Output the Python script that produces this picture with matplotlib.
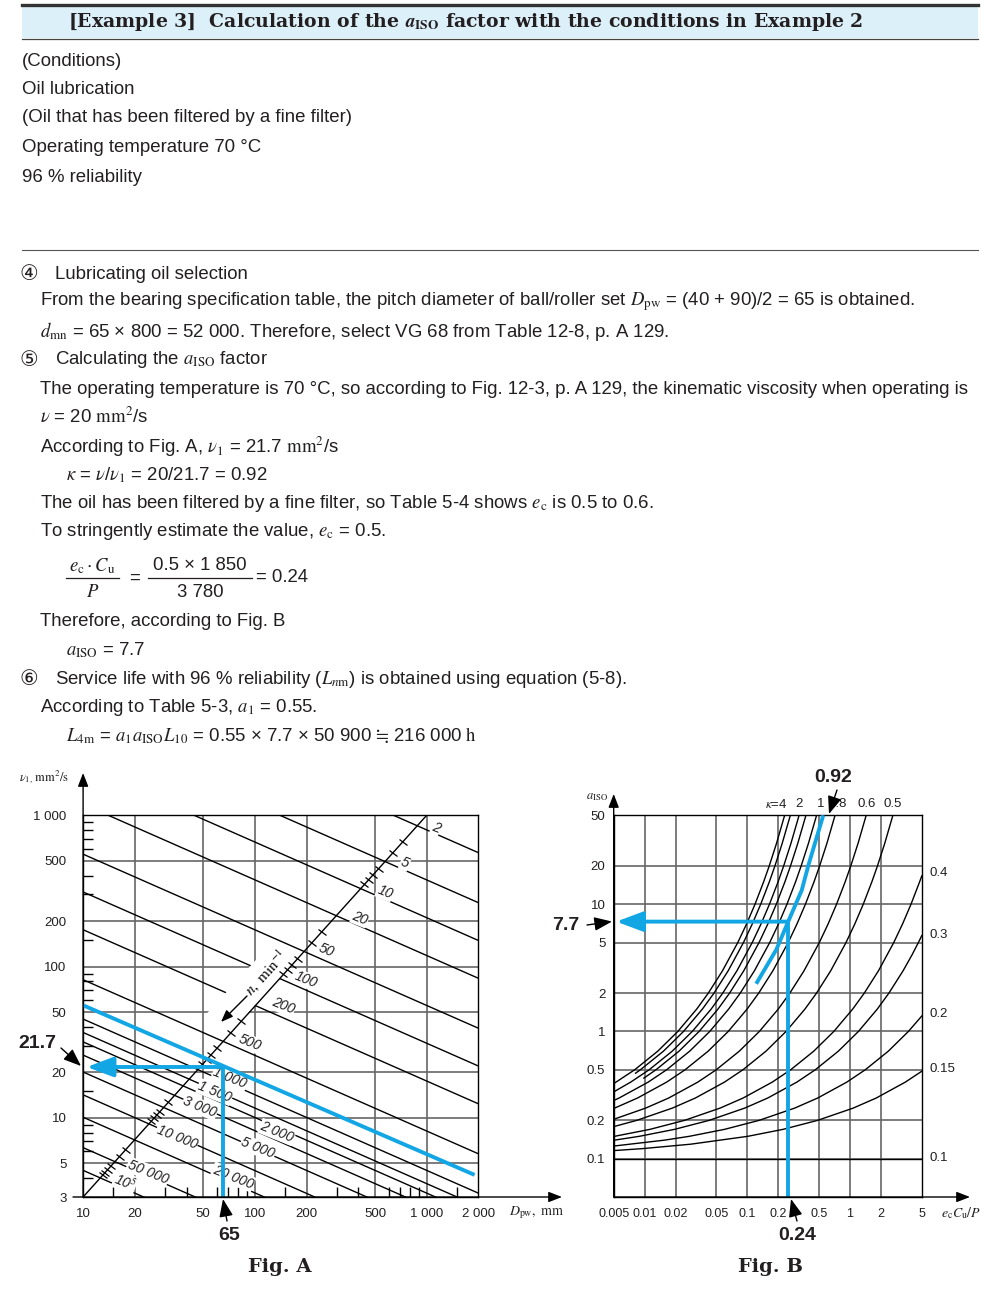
import numpy as np
import matplotlib
matplotlib.use("Agg")
import matplotlib.pyplot as plt
from matplotlib.patches import Rectangle, Polygon, FancyArrowPatch
from matplotlib.lines import Line2D
from matplotlib.markers import MarkerStyle
from matplotlib.transforms import Affine2D
from matplotlib.ticker import FixedLocator, NullFormatter

plt.rcParams['font.family'] = ['Liberation Sans', 'DejaVu Sans', 'Noto Sans CJK JP']
plt.rcParams['mathtext.fontset'] = 'stix'

W, H = 984, 1294
BLUE = '#12a6e4'
GRID = '#666666'

# ---------------- page text ----------------
title = r"[Example 3]  Calculation of the $\mathbfit{a}_{\mathbf{ISO}}$ factor with the conditions in Example 2"
text_lines = [
    (22, 61, "(Conditions)"),
    (22, 89, "Oil lubrication"),
    (22, 118, "(Oil that has been filtered by a fine filter)"),
    (22, 148, "Operating temperature 70 °C"),
    (22, 177, "96 % reliability"),
    (55, 274, "Lubricating oil selection"),
    (40, 302, r"From the bearing specification table, the pitch diameter of ball/roller set $D_{\mathrm{pw}}$ = (40 + 90)/2 = 65 is obtained."),
    (40, 331, r"$d_{\mathrm{mn}}$ = 65 × 800 = 52 000. Therefore, select VG 68 from Table 12-8, p. A 129."),
    (55, 360, r"Calculating the $a_{\mathrm{ISO}}$ factor"),
    (40, 389, "The operating temperature is 70 °C, so according to Fig. 12-3, p. A 129, the kinematic viscosity when operating is"),
    (40, 417, r"$\nu$ = 20 $\mathrm{mm^2}$/s"),
    (40, 447, r"According to Fig. A, $\nu_1$ = 21.7 $\mathrm{mm^2}$/s"),
    (66, 475, r"$\kappa$ = $\nu$/$\nu_1$ = 20/21.7 = 0.92"),
    (40, 504, r"The oil has been filtered by a fine filter, so Table 5-4 shows $e_{\mathrm{c}}$ is 0.5 to 0.6."),
    (40, 532, r"To stringently estimate the value, $e_{\mathrm{c}}$ = 0.5."),
    (40, 621, "Therefore, according to Fig. B"),
    (66, 650, r"$a_{\mathrm{ISO}}$ = 7.7"),
    (55, 679, r"Service life with 96 % reliability ($L_{n\mathrm{m}}$) is obtained using equation (5-8)."),
    (40, 707, r"According to Table 5-3, $a_1$ = 0.55."),
    (66, 736, r"$L_{\mathrm{4m}}$ = $a_1a_{\mathrm{ISO}}L_{10}$ = 0.55 × 7.7 × 50 900 $≒$ 216 000 $\mathrm{h}$"),
]
step_marks = [(29, 274, "④"), (29, 360, "⑤"), (29, 679, "⑥")]

# ---------------- Fig. A data ----------------
dpw_ticks = [10, 20, 50, 100, 200, 500, 1000, 2000]
dpw_labels = ['10', '20', '50', '100', '200', '500', '1 000', '2 000']
nu_ticks = [3, 5, 10, 20, 50, 100, 200, 500, 1000]
nu_labels = ['3', '5', '10', '20', '50', '100', '200', '500', '1 000']
dpw_grid = [20, 50, 100, 200, 500, 1000]
nu_grid = [5, 10, 20, 50, 100, 200, 500]
dpw_minor = [15, 30, 40, 60, 70, 80, 90, 150, 300, 400, 600, 700, 800, 900, 1500]
nu_minor = [4, 6, 7, 8, 9, 15, 30, 40, 60, 70, 80, 90, 150, 300, 400, 600, 700, 800, 900]

# speed lines n (min^-1): v1 read at Dpw = 10 mm and at Dpw = 2000 mm
speed_n = [2, 5, 10, 20, 50, 100, 200, 500, 1000, 1500, 2000, 3000, 5000, 10000, 20000, 50000, 100000]
nu_at_10 = [8006, 3741, 2105, 1184, 553.5, 311.4, 175.2, 81.9, 45.0, 36.7, 31.8, 26.0, 20.1, 14.2, 10.1, 6.36, 4.5]
nu_at_2000 = [566.1, 264.5, 148.8, 83.7, 39.14, 22.02, 12.39, 5.79, 3.18, 2.60, 2.25, 1.84, 1.42, 1.00, 0.714, 0.450, 0.318]

# n scale (diagonal) and its small ticks (Dpw where they sit)
scale_dpw = [10, 1000]
scale_nu = [3, 1000]
scale_tick_dpw = [728, 636, 525, 488, 459, 434, 246, 215, 177.5, 165, 155, 146.6,
                  83.2, 72.6, 60, 55.8, 52.4, 49.5, 31.4, 28, 26.8, 25.8, 24.9,
                  17.7, 16.3, 14.55, 13.9, 13.4, 13.0]
speed_labels = ['2', '5', '10', '20', '50', '100', '200', '500', '1 000', '1 500', '3 000',
                '10 000', '50 000', '10$^{5}$', '2 000', '5 000', '20 000']
speed_label_px = [(436, 828), (405, 863), (385, 892), (360, 918), (326, 950), (306, 980),
                  (283, 1006), (250, 1043), (230, 1078), (215, 1092), (200, 1107),
                  (177, 1137), (148, 1172), (125, 1182), (277, 1132), (258, 1148), (233, 1177)]

blue_dpw = [10, 1900]
blue_nu = [55.5, 4.2]
read_dpw = 65
read_nu = 21.7

# ---------------- Fig. B data ----------------
ratio_ticks = [0.005, 0.01, 0.02, 0.05, 0.1, 0.2, 0.5, 1, 2, 5]
ratio_labels = ['0.005', '0.01', '0.02', '0.05', '0.1', '0.2', '0.5', '1', '2', '5']
aiso_ticks = [0.1, 0.2, 0.5, 1, 2, 5, 10, 20, 50]
aiso_labels = ['0.1', '0.2', '0.5', '1', '2', '5', '10', '20', '50']
ratio_grid = [0.01, 0.02, 0.05, 0.1, 0.2, 0.5, 1, 2]
aiso_grid = [0.1, 0.2, 0.5, 1, 2, 5, 10, 20]

kappa_names = ['4', '3', '2', '1.5', '1', '0.8', '0.6', '0.5', '0.4', '0.3', '0.2', '0.15', '0.1']
kappa_x = [
    [0.005, 0.008006, 0.013427, 0.021047, 0.032166, 0.041667, 0.05733, 0.080763, 0.098367, 0.11883, 0.14417, 0.16344, 0.19222, 0.23093],
    [0.008167, 0.009097, 0.015255, 0.023913, 0.036545, 0.04734, 0.065135, 0.09176, 0.11177, 0.13502, 0.16381, 0.18569, 0.2184, 0.26238],
    [0.005, 0.007325, 0.011069, 0.018561, 0.029096, 0.044467, 0.057603, 0.079256, 0.11165, 0.13599, 0.16429, 0.19932, 0.22596, 0.26574, 0.31927],
    [0.009832, 0.0129, 0.021634, 0.033914, 0.051832, 0.067141, 0.092377, 0.13014, 0.15851, 0.19149, 0.23232, 0.26335, 0.30972, 0.37213],
    [0.005, 0.005648, 0.010842, 0.016385, 0.027478, 0.043073, 0.065827, 0.085271, 0.11733, 0.16528, 0.20131, 0.24319, 0.29506, 0.33447, 0.39338, 0.4726],
    [0.005, 0.008542, 0.016399, 0.02478, 0.041559, 0.065144, 0.099554, 0.12896, 0.17744, 0.24998, 0.30447, 0.36782, 0.44624, 0.50586, 0.59495, 0.71478],
    [0.005, 0.010254, 0.017174, 0.032968, 0.04982, 0.083545, 0.13096, 0.20015, 0.25927, 0.35673, 0.50254, 0.61209, 0.73945, 0.89712, 1.01699, 1.19608, 1.437],
    [0.005, 0.008365, 0.018652, 0.031241, 0.059975, 0.090627, 0.15198, 0.23825, 0.3641, 0.47166, 0.64895, 0.91423, 1.11351, 1.34521, 1.63203, 1.85005, 2.17588, 2.61416],
    [0.005, 0.01124, 0.024404, 0.054423, 0.091151, 0.17499, 0.26441, 0.44343, 0.69508, 1.06232, 1.37608, 1.89337, 2.66729, 3.24876, 3.92473, 4.7616, 5.0],
    [0.005, 0.008906, 0.019513, 0.042376, 0.094503, 0.15827, 0.30384, 0.45913, 0.76996, 1.20697, 1.84462, 2.38939, 3.28761, 4.0168, 4.63148, 5.0],
    [0.005, 0.01573, 0.027306, 0.059826, 0.12993, 0.28973, 0.48527, 0.9316, 1.40768, 2.36072, 3.70058, 5.0],
    [0.005, 0.009524, 0.028042, 0.1014, 0.22217, 0.48248, 1.07588, 1.80196, 3.45932, 5.0],
    [0.005, 5.0],
]
kappa_a = [
    [0.389, 0.5, 0.7, 1, 1.5, 2, 3, 5, 7, 10, 15, 20, 30, 50],
    [0.47, 0.5, 0.7, 1, 1.5, 2, 3, 5, 7, 10, 15, 20, 30, 50],
    [0.335, 0.4, 0.5, 0.7, 1, 1.5, 2, 3, 5, 7, 10, 15, 20, 30, 50],
    [0.43, 0.5, 0.7, 1, 1.5, 2, 3, 5, 7, 10, 15, 20, 30, 50],
    [0.2865, 0.3, 0.4, 0.5, 0.7, 1, 1.5, 2, 3, 5, 7, 10, 15, 20, 30, 50],
    [0.248, 0.3, 0.4, 0.5, 0.7, 1, 1.5, 2, 3, 5, 7, 10, 15, 20, 30, 50],
    [0.204, 0.25, 0.3, 0.4, 0.5, 0.7, 1, 1.5, 2, 3, 5, 7, 10, 15, 20, 30, 50],
    [0.1787, 0.2, 0.25, 0.3, 0.4, 0.5, 0.7, 1, 1.5, 2, 3, 5, 7, 10, 15, 20, 30, 50],
    [0.1495, 0.17, 0.2, 0.25, 0.3, 0.4, 0.5, 0.7, 1, 1.5, 2, 3, 5, 7, 10, 15, 16.7],
    [0.1396, 0.15, 0.17, 0.2, 0.25, 0.3, 0.4, 0.5, 0.7, 1, 1.5, 2, 3, 4, 5, 5.673],
    [0.1257, 0.14, 0.15, 0.17, 0.2, 0.25, 0.3, 0.4, 0.5, 0.7, 1, 1.323],
    [0.1158, 0.12, 0.13, 0.15, 0.17, 0.2, 0.25, 0.3, 0.4, 0.487],
    [0.1, 0.1],
]
kappa_top_labels = [(r'$\kappa$=4', 776), ('2', 799), ('1', 821), ('0.8', 838), ('0.6', 867), ('0.5', 893)]
kappa_side_labels = [('0.4', 873), ('0.3', 935), ('0.2', 1014), ('0.15', 1069), ('0.1', 1158)]

blue_ratio = [0.122, 0.192, 0.25, 0.339, 0.393, 0.549]
blue_aiso = [2.37, 4.41, 7.3, 12.9, 20.2, 50]
read_ratio = 0.25
read_aiso = 7.3


fig = plt.figure(figsize=(W / 100, H / 100), dpi=100)


def P(x, y):
    return (x / W, 1 - y / H)


def put(x, y, s, **kw):
    kw.setdefault('fontsize', 13.4)
    kw.setdefault('va', 'center')
    kw.setdefault('ha', 'left')
    kw.setdefault('color', '#231f20')
    return fig.text(x / W, 1 - y / H, s, **kw)


def hline_px(x0, x1, y, **kw):
    fig.add_artist(Line2D([x0 / W, x1 / W], [1 - y / H] * 2, transform=fig.transFigure, **kw))


def arrow_px(start, tip, color='k', lw=1.0, head=10):
    fig.add_artist(FancyArrowPatch(P(*start), P(*tip), transform=fig.transFigure,
                                   arrowstyle='-|>,head_length=0.9,head_width=0.35',
                                   mutation_scale=head, color=color, lw=lw,
                                   shrinkA=0, shrinkB=0, zorder=10))


# header band
fig.add_artist(Rectangle(P(22, 38), 956 / W, 33 / H, transform=fig.transFigure,
                         fc='#dcf0fa', ec='none', zorder=0))
hline_px(22, 978, 5, color='#333333', lw=2.4)
hline_px(22, 978, 38.5, color='#444444', lw=0.9)
put(68, 22, title, fontsize=13.6, fontweight='bold', family='DejaVu Serif')
hline_px(22, 978, 250, color='#555555', lw=0.8)

for x, y, s in text_lines:
    put(x, y, s)
for x, y, s in step_marks:
    put(x, y, s, ha='center', family=['DejaVu Sans'], fontsize=15)

# fraction e_c C_u / P
put(92, 566, r"$e_{\mathrm{c}}\cdot C_{\mathrm{u}}$", ha='center')
hline_px(66, 119, 578, color='#231f20', lw=0.9)
put(93, 592, r"$P$", ha='center')
put(135, 578, "=", ha='center')
put(200, 566, "0.5 × 1 850", ha='center')
hline_px(148, 252, 578, color='#231f20', lw=0.9)
put(200, 592, "3 780", ha='center')
put(256, 578, "= 0.24")

# ================= Fig. A =================
axA = fig.add_axes([83.1 / W, 1 - 1197 / H, 395.3 / W, 381.7 / H])
axA.set_xscale('log')
axA.set_yscale('log')
axA.set_xlim(10, 2000)
axA.set_ylim(3, 1000)
axA.vlines(dpw_grid, 3, 1000, colors=GRID, lw=1.2, zorder=1)
axA.hlines(nu_grid, 10, 2000, colors=GRID, lw=1.2, zorder=1)
for v0, v1 in zip(nu_at_10, nu_at_2000):
    axA.plot([10, 2000], [v0, v1], color='k', lw=1.0, zorder=2)

# white area around the n label and its arrow
mask_px = [(228.9, 1033.8), (206.8, 1013.5), (269, 945.7), (291.1, 966)]
axA.add_patch(Polygon([P(x, y) for x, y in mask_px], closed=True, transform=fig.transFigure,
                      fc='white', ec='none', zorder=3))

axA.plot(scale_dpw, scale_nu, color='k', lw=1.0, zorder=4)
tick_nu = 10 ** np.interp(np.log10(scale_tick_dpw), np.log10(scale_dpw), np.log10(scale_nu))
tick_marker = MarkerStyle('_', transform=Affine2D().rotate_deg(-42.5))
axA.plot(scale_tick_dpw, tick_nu, ls='none', marker=tick_marker, ms=7, mew=0.9, color='k', zorder=4)

for s, (x, y) in zip(speed_labels, speed_label_px):
    axA.text(*P(x, y), s, transform=fig.transFigure, rotation=-22, fontsize=10, style='italic',
             ha='center', va='center', zorder=5, color='#231f20',
             bbox=dict(fc='white', ec='none', pad=0.6))
axA.text(*P(266, 973), r"$n,\ \mathrm{min}^{-1}$", transform=fig.transFigure, rotation=47.5,
         fontsize=11, ha='center', va='center', zorder=5)
arrow_px((247, 996), (221, 1022), head=8)

axA.plot(blue_dpw, blue_nu, color=BLUE, lw=2.8, zorder=6, solid_capstyle='butt')
axA.plot([read_dpw, read_dpw], [read_nu, 3], color=BLUE, lw=2.8, zorder=6, solid_capstyle='butt')
axA.annotate('', xy=(10.5, read_nu), xytext=(read_dpw, read_nu),
             arrowprops=dict(arrowstyle='-|>,head_length=0.8,head_width=0.3', color=BLUE, lw=2.8,
                             mutation_scale=20, shrinkA=0, shrinkB=0), zorder=6)

axA.set_xticks(dpw_ticks)
axA.set_xticklabels(dpw_labels)
axA.set_yticks(nu_ticks)
axA.set_yticklabels(nu_labels)
axA.xaxis.set_minor_locator(FixedLocator(dpw_minor))
axA.yaxis.set_minor_locator(FixedLocator(nu_minor))
axA.xaxis.set_minor_formatter(NullFormatter())
axA.yaxis.set_minor_formatter(NullFormatter())
axA.tick_params(which='major', length=0, labelsize=9.5, colors='#231f20')
axA.tick_params(axis='x', which='major', pad=8)
axA.tick_params(axis='y', which='major', pad=12)
axA.tick_params(which='minor', direction='in', length=7, width=1.0)
for sp in axA.spines.values():
    sp.set_linewidth(1.0)

arrow_px((83.1, 1197), (83.1, 773), head=9)
arrow_px((73, 1197), (562, 1197), head=9)
put(44, 777, r"$\nu_{1,}\,\mathrm{mm^2/s}$", fontsize=9, ha='center')
put(537, 1213, r"$D_{\mathrm{pw}},\ \mathrm{mm}$", fontsize=10, ha='center')

put(37, 1043, "21.7", fontsize=14, fontweight='bold', ha='center')
arrow_px((61, 1048), (81, 1066), head=12)
put(229, 1235, "65", fontsize=14, fontweight='bold', ha='center')
arrow_px((227, 1221), (223, 1199), head=12)
put(280, 1267, "Fig. A", fontsize=14, fontweight='bold', family='DejaVu Serif', ha='center')

# ================= Fig. B =================
axB = fig.add_axes([613.7 / W, 1 - 1197 / H, 308.1 / W, 381.7 / H])
axB.set_xscale('log')
axB.set_yscale('log')
axB.set_xlim(0.005, 5)
axB.set_ylim(0.05, 50)
axB.vlines(ratio_grid, 0.05, 50, colors=GRID, lw=1.2, zorder=1)
axB.hlines(aiso_grid, 0.005, 5, colors=GRID, lw=1.2, zorder=1)
for xs, ys in zip(kappa_x, kappa_a):
    axB.plot(xs, ys, color='k', lw=1.0, zorder=3)

axB.plot(blue_ratio, blue_aiso, color=BLUE, lw=2.8, zorder=6, solid_capstyle='butt')
axB.plot([read_ratio, read_ratio], [0.05, read_aiso], color=BLUE, lw=2.8, zorder=6, solid_capstyle='butt')
axB.annotate('', xy=(0.0053, read_aiso), xytext=(read_ratio, read_aiso),
             arrowprops=dict(arrowstyle='-|>,head_length=0.8,head_width=0.3', color=BLUE, lw=2.8,
                             mutation_scale=20, shrinkA=0, shrinkB=0), zorder=6)

axB.set_xticks(ratio_ticks)
axB.set_xticklabels(ratio_labels)
axB.set_yticks(aiso_ticks)
axB.set_yticklabels(aiso_labels)
axB.xaxis.set_minor_locator(FixedLocator([]))
axB.yaxis.set_minor_locator(FixedLocator([]))
axB.tick_params(which='major', length=0, labelsize=9.5, colors='#231f20')
axB.tick_params(axis='x', which='major', pad=8, labelsize=9)
axB.tick_params(axis='y', which='major', pad=6)
for sp in axB.spines.values():
    sp.set_linewidth(1.0)

arrow_px((613.7, 1197), (613.7, 794), head=9)
arrow_px((613.7, 1197), (970, 1197), head=9)
put(597, 797, r"$a_{\mathrm{ISO}}$", fontsize=9, ha='center')
put(961, 1213, r"$e_{\mathrm{c}}C_{\mathrm{u}}/P$", fontsize=10, ha='center')

for s, x in kappa_top_labels:
    put(x, 804, s, fontsize=9.5, ha='center')
for s, y in kappa_side_labels:
    put(929, y, s, fontsize=9.5)

put(833, 777, "0.92", fontsize=14, fontweight='bold', ha='center')
arrow_px((837, 790), (829, 814), head=12)
put(566, 925, "7.7", fontsize=14, fontweight='bold', ha='center')
arrow_px((587, 925), (612, 921.5), head=12)
put(797, 1235, "0.24", fontsize=14, fontweight='bold', ha='center')
arrow_px((797, 1221), (791, 1199), head=12)
put(770, 1267, "Fig. B", fontsize=14, fontweight='bold', family='DejaVu Serif', ha='center')

fig.savefig("out.png", dpi=100)
